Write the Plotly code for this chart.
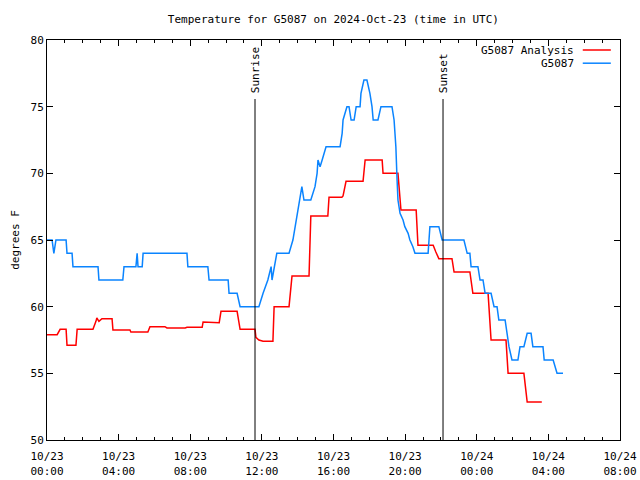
import plotly.graph_objects as go

# G5087 observed
obs_time = [
    "2024-10-23 00:00", "2024-10-23 00:17", "2024-10-23 00:23", "2024-10-23 00:30",
    "2024-10-23 01:04", "2024-10-23 01:07", "2024-10-23 01:24", "2024-10-23 01:27",
    "2024-10-23 02:51", "2024-10-23 02:54", "2024-10-23 04:14", "2024-10-23 04:18",
    "2024-10-23 04:58", "2024-10-23 05:02", "2024-10-23 05:05", "2024-10-23 05:19",
    "2024-10-23 05:22", "2024-10-23 07:49", "2024-10-23 07:52", "2024-10-23 08:59",
    "2024-10-23 09:03", "2024-10-23 10:07", "2024-10-23 10:10", "2024-10-23 10:37",
    "2024-10-23 10:47", "2024-10-23 11:50", "2024-10-23 12:04", "2024-10-23 12:20",
    "2024-10-23 12:31", "2024-10-23 12:34", "2024-10-23 12:50", "2024-10-23 13:31",
    "2024-10-23 13:44", "2024-10-23 14:08", "2024-10-23 14:14", "2024-10-23 14:21",
    "2024-10-23 14:44", "2024-10-23 14:58", "2024-10-23 15:05", "2024-10-23 15:08",
    "2024-10-23 15:15", "2024-10-23 15:22", "2024-10-23 15:35", "2024-10-23 16:22",
    "2024-10-23 16:29", "2024-10-23 16:32", "2024-10-23 16:45", "2024-10-23 16:52",
    "2024-10-23 16:59", "2024-10-23 17:09", "2024-10-23 17:16", "2024-10-23 17:29",
    "2024-10-23 17:32", "2024-10-23 17:42", "2024-10-23 17:52", "2024-10-23 18:02",
    "2024-10-23 18:09", "2024-10-23 18:13", "2024-10-23 18:29", "2024-10-23 18:39",
    "2024-10-23 19:16", "2024-10-23 19:23", "2024-10-23 19:29", "2024-10-23 19:33",
    "2024-10-23 19:36", "2024-10-23 19:43", "2024-10-23 19:53", "2024-10-23 19:59",
    "2024-10-23 20:10", "2024-10-23 20:16", "2024-10-23 20:26", "2024-10-23 20:33",
    "2024-10-23 21:17", "2024-10-23 21:20", "2024-10-23 21:23", "2024-10-23 21:53",
    "2024-10-23 22:04", "2024-10-23 23:17", "2024-10-23 23:28", "2024-10-23 23:37",
    "2024-10-23 23:41", "2024-10-24 00:04", "2024-10-24 00:11", "2024-10-24 00:21",
    "2024-10-24 00:28", "2024-10-24 00:48", "2024-10-24 00:58", "2024-10-24 01:08",
    "2024-10-24 01:14", "2024-10-24 01:35", "2024-10-24 01:41", "2024-10-24 01:48",
    "2024-10-24 01:58", "2024-10-24 02:18", "2024-10-24 02:25", "2024-10-24 02:38",
    "2024-10-24 02:49", "2024-10-24 03:02", "2024-10-24 03:08", "2024-10-24 03:42",
    "2024-10-24 03:46", "2024-10-24 04:16", "2024-10-24 04:29", "2024-10-24 04:49",
]
obs_temp = [
    65, 65, 64, 65,
    65, 64, 64, 63,
    63, 62, 62, 63,
    63, 64, 63, 63,
    64, 64, 63, 63,
    62, 62, 61, 61,
    60, 60, 61, 62,
    63, 62, 64, 64,
    65, 68, 69, 68,
    68, 69, 70, 71,
    70.5, 71, 72, 72,
    73, 74, 75, 75,
    74, 74, 75, 75,
    76, 77, 77, 76,
    75, 74, 74, 75,
    75, 74, 72, 69.5,
    68, 67, 66.5, 66,
    65.5, 65, 64.5, 64,
    64, 65, 66, 66,
    65, 65, 64, 64,
    63, 63, 62, 62,
    61, 61, 60, 60,
    59, 59, 58, 57,
    56, 56, 57, 57,
    58, 58, 57, 57,
    56, 56, 55, 55,
]

# G5087 Analysis
ana_time = [
    "2024-10-23 00:00", "2024-10-23 00:34", "2024-10-23 00:44", "2024-10-23 01:04",
    "2024-10-23 01:07", "2024-10-23 01:37", "2024-10-23 01:41", "2024-10-23 02:34",
    "2024-10-23 02:44", "2024-10-23 02:47", "2024-10-23 02:54", "2024-10-23 03:04",
    "2024-10-23 03:38", "2024-10-23 03:41", "2024-10-23 04:38", "2024-10-23 04:41",
    "2024-10-23 05:38", "2024-10-23 05:45", "2024-10-23 06:35", "2024-10-23 06:42",
    "2024-10-23 07:43", "2024-10-23 07:49", "2024-10-23 08:40", "2024-10-23 08:43",
    "2024-10-23 09:37", "2024-10-23 09:43", "2024-10-23 10:37", "2024-10-23 10:47",
    "2024-10-23 11:37", "2024-10-23 11:40", "2024-10-23 11:50", "2024-10-23 12:04",
    "2024-10-23 12:37", "2024-10-23 12:41", "2024-10-23 13:31", "2024-10-23 13:41",
    "2024-10-23 14:38", "2024-10-23 14:44", "2024-10-23 15:41", "2024-10-23 15:45",
    "2024-10-23 16:28", "2024-10-23 16:32", "2024-10-23 16:42", "2024-10-23 17:39",
    "2024-10-23 17:46", "2024-10-23 18:43", "2024-10-23 18:46", "2024-10-23 19:36",
    "2024-10-23 19:46", "2024-10-23 20:37", "2024-10-23 20:43", "2024-10-23 21:34",
    "2024-10-23 21:43", "2024-10-23 21:53", "2024-10-23 22:37", "2024-10-23 22:44",
    "2024-10-23 23:37", "2024-10-23 23:47", "2024-10-24 00:38", "2024-10-24 00:48",
    "2024-10-24 01:38", "2024-10-24 01:45", "2024-10-24 02:38", "2024-10-24 02:49",
    "2024-10-24 03:38",
]
ana_temp = [
    57.9, 57.9, 58.3, 58.3,
    57.1, 57.1, 58.3, 58.3,
    58.9, 59.15, 58.9, 59.1,
    59.1, 58.25, 58.25, 58.1,
    58.1, 58.5, 58.5, 58.4,
    58.4, 58.45, 58.45, 58.85,
    58.8, 59.65, 59.65, 58.3,
    58.3, 57.7, 57.5, 57.4,
    57.4, 60.0, 60.0, 62.3,
    62.3, 66.8, 66.8, 68.2,
    68.2, 68.3, 69.4, 69.4,
    71.0, 71.0, 70.0, 70.0,
    67.25, 67.25, 64.6, 64.6,
    64.1, 63.6, 63.6, 62.6,
    62.6, 61.0, 61.0, 57.5,
    57.5, 55.0, 55.0, 52.85,
    52.85,
]

sun_times = ["2024-10-23 11:37", "2024-10-23 22:07"]
sun_labels = ["Sunrise", "Sunset"]

series_names = ["G5087 Analysis", "G5087"]
series_colors = ["#ff0000", "#0a84ff"]

FONT = "DejaVu Sans Mono"

fig = go.Figure()
fig.add_trace(go.Scatter(x=ana_time, y=ana_temp, mode="lines", name=series_names[0],
                         line=dict(color=series_colors[0], width=1.5), showlegend=False))
fig.add_trace(go.Scatter(x=obs_time, y=obs_temp, mode="lines", name=series_names[1],
                         line=dict(color=series_colors[1], width=1.5), showlegend=False))

shapes = []
annotations = []
for t, lab in zip(sun_times, sun_labels):
    shapes.append(dict(type="line", xref="x", yref="paper", x0=t, x1=t, y0=0, y1=0.8525,
                       line=dict(color="black", width=1)))
    annotations.append(dict(x=t, y=0.862, xref="x", yref="paper", text=lab, textangle=-90,
                            showarrow=False, xanchor="center", yanchor="bottom",
                            font=dict(family=FONT, size=11, color="black")))

# gnuplot-style key (text right-aligned, sample line at right)
for i, (nm, col) in enumerate(zip(series_names, series_colors)):
    ypos = 0.975 - i * 0.033
    annotations.append(dict(x=0.924, y=ypos, xref="paper", yref="paper", text=nm,
                            showarrow=False, xanchor="right", yanchor="middle",
                            font=dict(family=FONT, size=11, color="black")))
    shapes.append(dict(type="line", xref="paper", yref="paper", x0=0.935, x1=0.984,
                       y0=ypos, y1=ypos, line=dict(color=col, width=1.5)))

fig.update_layout(
    width=640, height=480,
    margin=dict(l=47, r=20, t=40, b=40, autoexpand=False),
    paper_bgcolor="white", plot_bgcolor="white",
    title=dict(text="Temperature for G5087 on 2024-Oct-23 (time in UTC)", x=0.521, xanchor="center",
               y=0.96, yanchor="middle", font=dict(family=FONT, size=11, color="black")),
    font=dict(family=FONT, size=11, color="black"),
    shapes=shapes, annotations=annotations,
    showlegend=False,
)
fig.update_xaxes(type="date", range=["2024-10-23 00:00", "2024-10-24 08:00"],
                 dtick=4 * 3600000, tick0="2024-10-23 00:00", tickformat="%m/%d<br>%H:%M",
                 ticks="inside", ticklen=6, tickcolor="black", mirror="allticks",
                 showline=True, linecolor="black", linewidth=1, showgrid=False, zeroline=False,
                 automargin=False, ticklabelstandoff=6,
                 minor=dict(dtick=3600000, ticks="inside", ticklen=3, tickcolor="black", showgrid=False),
                 tickfont=dict(family=FONT, size=11))
fig.update_yaxes(range=[50, 80], dtick=5, ticks="inside", ticklen=6, tickcolor="black",
                 mirror="allticks", showline=True, linecolor="black", linewidth=1,
                 showgrid=False, zeroline=False, automargin=False,
                 title=dict(text="degrees F", font=dict(family=FONT, size=11), standoff=8),
                 tickfont=dict(family=FONT, size=11))

fig.write_html("out.html")
